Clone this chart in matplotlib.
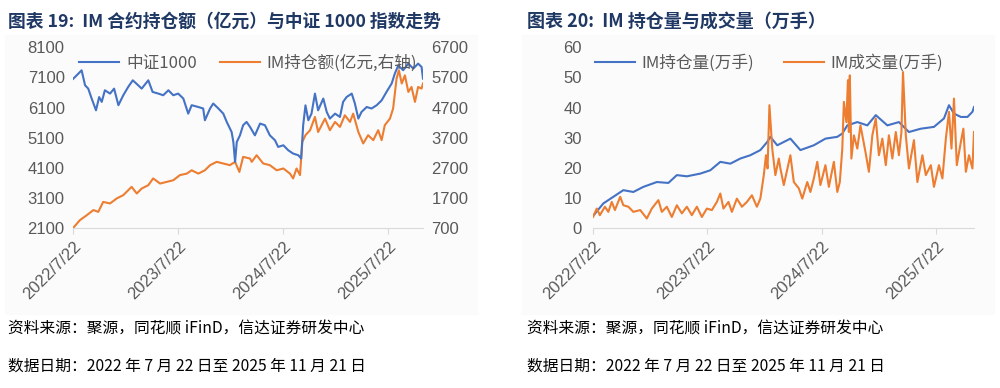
import pandas as pd
import matplotlib.pyplot as plt
import matplotlib.dates as mdates
from matplotlib.patches import Rectangle

plt.rcParams['font.family'] = ['Noto Sans CJK SC', 'DejaVu Sans']

# ---- 图表19 data: 中证1000 (left axis) ----
csi_dates = ['2022-07-22', '2022-08-04', '2022-08-21', '2022-09-02', '2022-09-13', '2022-09-25',
             '2022-10-10', '2022-10-21', '2022-10-30', '2022-11-10', '2022-11-28', '2022-12-12',
             '2022-12-27', '2023-01-13', '2023-01-30', '2023-02-15', '2023-03-06', '2023-03-18',
             '2023-04-10', '2023-04-25', '2023-05-15', '2023-06-01', '2023-06-19', '2023-07-06',
             '2023-07-23', '2023-08-10', '2023-08-27', '2023-09-08', '2023-10-01', '2023-10-18',
             '2023-10-24', '2023-11-11', '2023-11-22', '2023-12-10', '2023-12-27', '2024-01-08',
             '2024-01-25', '2024-01-31', '2024-02-06', '2024-02-12', '2024-02-23', '2024-03-05',
             '2024-03-17', '2024-03-29', '2024-04-15', '2024-05-03', '2024-05-20', '2024-06-06',
             '2024-06-24', '2024-07-05', '2024-07-23', '2024-08-09', '2024-08-26', '2024-09-13',
             '2024-09-23', '2024-09-30', '2024-10-08', '2024-10-18', '2024-10-29', '2024-11-10',
             '2024-11-21', '2024-12-09', '2024-12-21', '2025-01-01', '2025-01-19', '2025-02-05',
             '2025-02-16', '2025-02-28', '2025-03-18', '2025-03-29', '2025-04-10', '2025-04-21',
             '2025-05-09', '2025-05-26', '2025-06-13', '2025-06-30', '2025-07-17', '2025-08-04',
             '2025-08-15', '2025-08-27', '2025-09-13', '2025-10-01', '2025-10-18', '2025-11-04',
             '2025-11-16', '2025-11-21']
csi_vals = [7050, 7172, 7338, 6840, 6730, 6400, 6010, 6450, 6290, 6675, 6565, 6730,
            6180, 6510, 6785, 7006, 6840, 6730, 7006, 6620, 6565, 6510, 6675, 6510,
            6565, 6400, 5900, 6180, 6120, 6070, 5680, 6070, 6235, 6070, 5900, 5625,
            5290, 4960, 4300, 4960, 5180, 5515, 5625, 5460, 5180, 5570, 5515, 5180,
            5015, 4795, 4850, 4685, 4575, 4520, 4410, 5515, 6175, 5680, 5900, 6565,
            6010, 6400, 5955, 5735, 5900, 5790, 6290, 6450, 6565, 6235, 5735, 5955,
            6120, 6070, 6180, 6340, 6620, 6900, 7230, 7500, 7340, 7560, 7395, 7560,
            7450, 7060]

# ---- 图表19 data: IM持仓额 亿元 (right axis) ----
oi_amt_dates = ['2022-07-22', '2022-08-15', '2022-09-08', '2022-10-01', '2022-10-18', '2022-11-04',
                '2022-11-28', '2022-12-21', '2023-01-13', '2023-02-11', '2023-03-01', '2023-03-18',
                '2023-04-10', '2023-04-27', '2023-05-21', '2023-06-13', '2023-07-06', '2023-07-29',
                '2023-08-22', '2023-09-08', '2023-10-01', '2023-10-24', '2023-11-11', '2023-12-04',
                '2023-12-27', '2024-01-19', '2024-02-06', '2024-02-21', '2024-03-05', '2024-03-29',
                '2024-04-04', '2024-04-21', '2024-05-14', '2024-06-06', '2024-06-30', '2024-07-23',
                '2024-08-15', '2024-08-26', '2024-09-07', '2024-09-19', '2024-09-27', '2024-10-08',
                '2024-10-24', '2024-11-10', '2024-11-21', '2024-12-15', '2025-01-01', '2025-01-19',
                '2025-02-05', '2025-02-22', '2025-03-12', '2025-03-23', '2025-04-10', '2025-04-27',
                '2025-05-14', '2025-06-01', '2025-06-18', '2025-06-30', '2025-07-11', '2025-07-29',
                '2025-08-09', '2025-08-21', '2025-08-29', '2025-09-08', '2025-09-19', '2025-10-01',
                '2025-10-12', '2025-10-24', '2025-11-04', '2025-11-16', '2025-11-21']
oi_amt_vals = [700, 965, 1130, 1300, 1240, 1570, 1520, 1685, 1795, 2070, 1850, 2015,
               2125, 2350, 2180, 2235, 2290, 2460, 2510, 2620, 2510, 2620, 2790, 2900,
               2845, 2790, 2900, 2565, 3065, 3010, 2900, 3120, 2845, 2790, 2620, 2680,
               2510, 2350, 2680, 2460, 3560, 3785, 3950, 4390, 3890, 4335, 3950, 4225,
               4060, 4445, 4225, 4500, 3890, 3510, 3785, 3620, 3950, 3620, 4115, 4335,
               4670, 5660, 5940, 5500, 5770, 5220, 5385, 4890, 5385, 5330, 5500]

# ---- 图表20 data: IM持仓量 万手 ----
oi_dates = ['2022-07-22', '2022-08-24', '2022-09-25', '2022-10-27', '2022-11-28', '2022-12-30',
            '2023-02-11', '2023-03-20', '2023-04-16', '2023-05-18', '2023-06-30', '2023-08-01',
            '2023-09-02', '2023-10-04', '2023-11-05', '2023-12-07', '2024-01-08', '2024-01-30',
            '2024-02-09', '2024-03-02', '2024-03-23', '2024-04-13', '2024-05-15', '2024-06-27',
            '2024-08-03', '2024-09-10', '2024-09-26', '2024-10-12', '2024-11-13', '2024-12-15',
            '2025-01-11', '2025-02-17', '2025-03-26', '2025-04-27', '2025-06-04', '2025-07-16',
            '2025-08-17', '2025-09-02', '2025-09-18', '2025-10-10', '2025-10-31', '2025-11-16',
            '2025-11-21']
oi_vals = [4.0, 8.2, 10.4, 12.6, 12.0, 13.7, 15.3, 15.0, 17.6, 17.2, 18.1, 19.2,
           22.0, 21.4, 23.1, 24.2, 25.9, 28.6, 30.3, 27.5, 28.6, 29.7, 25.9, 27.5,
           29.7, 30.3, 31.4, 34.1, 35.2, 34.1, 37.5, 34.1, 35.2, 31.9, 33.0, 33.6,
           36.4, 40.8, 38.0, 36.9, 36.9, 38.6, 40.2]

# ---- 图表20 data: IM成交量 万手 ----
vol_dates = ['2022-07-22', '2022-08-03', '2022-08-13', '2022-08-29', '2022-09-09', '2022-09-20',
             '2022-09-30', '2022-10-17', '2022-10-27', '2022-11-12', '2022-11-28', '2022-12-20',
             '2023-01-10', '2023-01-26', '2023-02-16', '2023-02-27', '2023-03-15', '2023-03-31',
             '2023-04-16', '2023-05-02', '2023-05-18', '2023-06-03', '2023-06-19', '2023-07-05',
             '2023-07-21', '2023-08-06', '2023-08-22', '2023-09-02', '2023-09-12', '2023-09-28',
             '2023-10-09', '2023-10-25', '2023-11-10', '2023-11-26', '2023-12-12', '2023-12-28',
             '2024-01-08', '2024-01-19', '2024-01-26', '2024-01-31', '2024-02-06', '2024-02-15',
             '2024-02-25', '2024-03-07', '2024-03-12', '2024-03-23', '2024-04-13', '2024-04-24',
             '2024-05-10', '2024-05-21', '2024-06-06', '2024-06-16', '2024-06-27', '2024-07-08',
             '2024-07-18', '2024-08-03', '2024-08-14', '2024-08-30', '2024-09-10', '2024-09-18',
             '2024-09-26', '2024-10-01', '2024-10-09', '2024-10-14', '2024-10-17', '2024-10-20',
             '2024-10-25', '2024-11-02', '2024-11-13', '2024-11-23', '2024-12-09', '2024-12-20',
             '2024-12-31', '2025-01-11', '2025-01-21', '2025-02-01', '2025-02-12', '2025-02-22',
             '2025-03-05', '2025-03-16', '2025-03-26', '2025-04-03', '2025-04-08', '2025-04-17',
             '2025-04-27', '2025-05-13', '2025-05-24', '2025-06-09', '2025-06-20', '2025-07-06',
             '2025-07-16', '2025-08-01', '2025-08-12', '2025-08-23', '2025-09-02', '2025-09-10',
             '2025-09-18', '2025-09-27', '2025-10-10', '2025-10-18', '2025-10-26', '2025-11-05',
             '2025-11-16', '2025-11-21']
vol_vals = [3.7, 6.5, 4.3, 7.1, 5.4, 8.7, 6.0, 10.4, 7.6, 7.1, 5.4, 6.0,
            3.2, 6.5, 9.3, 5.4, 7.1, 3.7, 7.6, 4.9, 7.1, 4.3, 7.1, 3.7,
            6.5, 6.0, 8.7, 11.5, 6.5, 8.7, 5.4, 9.8, 7.1, 8.7, 10.9, 7.1,
            9.8, 17.6, 24.2, 19.8, 40.8, 26.4, 17.6, 23.1, 19.8, 14.3, 24.2, 15.3,
            13.2, 9.8, 15.3, 12.0, 16.5, 22.0, 14.3, 20.9, 13.7, 22.0, 12.0, 15.3,
            26.4, 41.9, 35.2, 49.1, 31.9, 50.7, 23.1, 30.8, 26.4, 34.1, 25.3, 18.7,
            30.8, 36.4, 24.2, 29.7, 20.9, 30.8, 23.1, 31.9, 24.2, 31.9, 51.8, 30.8,
            19.8, 29.2, 15.3, 24.2, 17.6, 20.9, 13.7, 20.9, 16.5, 29.7, 38.6, 26.4,
            43.0, 20.9, 28.6, 33.0, 18.7, 24.2, 19.8, 31.9]

tick_dates = ['2022-07-22', '2023-07-22', '2024-07-22', '2025-07-22']
start, end = '2022-07-22', '2025-11-21'

BLUE = '#4472C4'
ORANGE = '#ED7D31'
GRAY = '#595959'
NAVY = '#1F3864'
FS = 12
TICKFONT = 'Liberation Sans'

fig = plt.figure(figsize=(10, 3.88), dpi=100)
fig.patches.append(Rectangle((0.005, 0.19), 0.472, 0.72, transform=fig.transFigure,
                             color='#fbfbfb', zorder=-1))
fig.patches.append(Rectangle((0.522, 0.19), 0.472, 0.72, transform=fig.transFigure,
                             color='#fbfbfb', zorder=-1))


def date_label(v, pos):
    d = mdates.num2date(v)
    return f'{d.year}/{d.month}/{d.day}'


def style_axis(ax):
    for s in ['top', 'right', 'left']:
        ax.spines[s].set_visible(False)
    ax.spines['bottom'].set_color('#d9d9d9')
    ax.set_xlim(pd.Timestamp(start), pd.Timestamp(end))
    ax.set_xticks(pd.to_datetime(tick_dates))
    ax.xaxis.set_major_formatter(plt.FuncFormatter(date_label))
    ax.tick_params(axis='x', colors='#d9d9d9', labelcolor=GRAY, labelsize=FS, length=4,
                   labelrotation=45)
    ax.tick_params(axis='y', length=0, labelcolor=GRAY, labelsize=FS)
    for lab in ax.get_xticklabels():
        lab.set_ha('right')
        lab.set_rotation_mode('anchor')
        lab.set_fontfamily(TICKFONT)
    for lab in ax.get_yticklabels():
        lab.set_fontfamily(TICKFONT)
    ax.patch.set_alpha(0)


# ---- left chart ----
ax1 = fig.add_axes([0.073, 0.412, 0.350, 0.466])
ax1b = ax1.twinx()
l1, = ax1.plot(pd.to_datetime(csi_dates), csi_vals, color=BLUE, lw=1.5, zorder=3)
l2, = ax1b.plot(pd.to_datetime(oi_amt_dates), oi_amt_vals, color=ORANGE, lw=1.5)
ax1.set_zorder(ax1b.get_zorder() + 1)
ax1.set_ylim(2100, 8100)
ax1.set_yticks(range(2100, 8101, 1000))
ax1b.set_ylim(700, 6700)
ax1b.set_yticks(range(700, 6701, 1000))
style_axis(ax1)
for s in ax1b.spines.values():
    s.set_visible(False)
ax1b.tick_params(axis='y', length=0, labelcolor=GRAY, labelsize=FS, pad=6)
for lab in ax1b.get_yticklabels():
    lab.set_fontfamily(TICKFONT)
ax1.tick_params(axis='y', pad=6)
ax1.legend([l1, l2], ['中证1000', 'IM持仓额(亿元,右轴)'], loc='center left',
           bbox_to_anchor=(-0.025, 0.915), ncol=2, frameon=False, fontsize=FS,
           labelcolor=GRAY, handlelength=2.4, columnspacing=1.4, handletextpad=0.4)

# ---- right chart ----
ax2 = fig.add_axes([0.593, 0.412, 0.381, 0.466])
l3, = ax2.plot(pd.to_datetime(oi_dates), oi_vals, color=BLUE, lw=1.5)
l4, = ax2.plot(pd.to_datetime(vol_dates), vol_vals, color=ORANGE, lw=1.5)
ax2.set_ylim(0, 60)
ax2.set_yticks(range(0, 61, 10))
style_axis(ax2)
ax2.tick_params(axis='y', pad=8)
ax2.legend([l3, l4], ['IM持仓量(万手)', 'IM成交量(万手)'], loc='center left',
           bbox_to_anchor=(-0.035, 0.915), ncol=2, frameon=False, fontsize=FS,
           labelcolor=GRAY, handlelength=2.4, columnspacing=1.8, handletextpad=0.4)

# ---- titles and notes ----
fig.text(0.008, 0.945, '图表 19:  IM 合约持仓额（亿元）与中证 1000 指数走势', fontsize=12.8,
         fontweight='bold', color=NAVY, va='center')
fig.text(0.527, 0.945, '图表 20:  IM 持仓量与成交量（万手）', fontsize=13,
         fontweight='bold', color=NAVY, va='center')
for x0 in (0.008, 0.527):
    fig.text(x0, 0.152, '资料来源：聚源，同花顺 iFinD，信达证券研发中心', fontsize=11.3,
             color='black', va='center', style='italic')
    fig.text(x0, 0.057, '数据日期：2022 年 7 月 22 日至 2025 年 11 月 21 日', fontsize=11.3,
             color='black', va='center', style='italic')

fig.savefig('out.png', dpi=100)
